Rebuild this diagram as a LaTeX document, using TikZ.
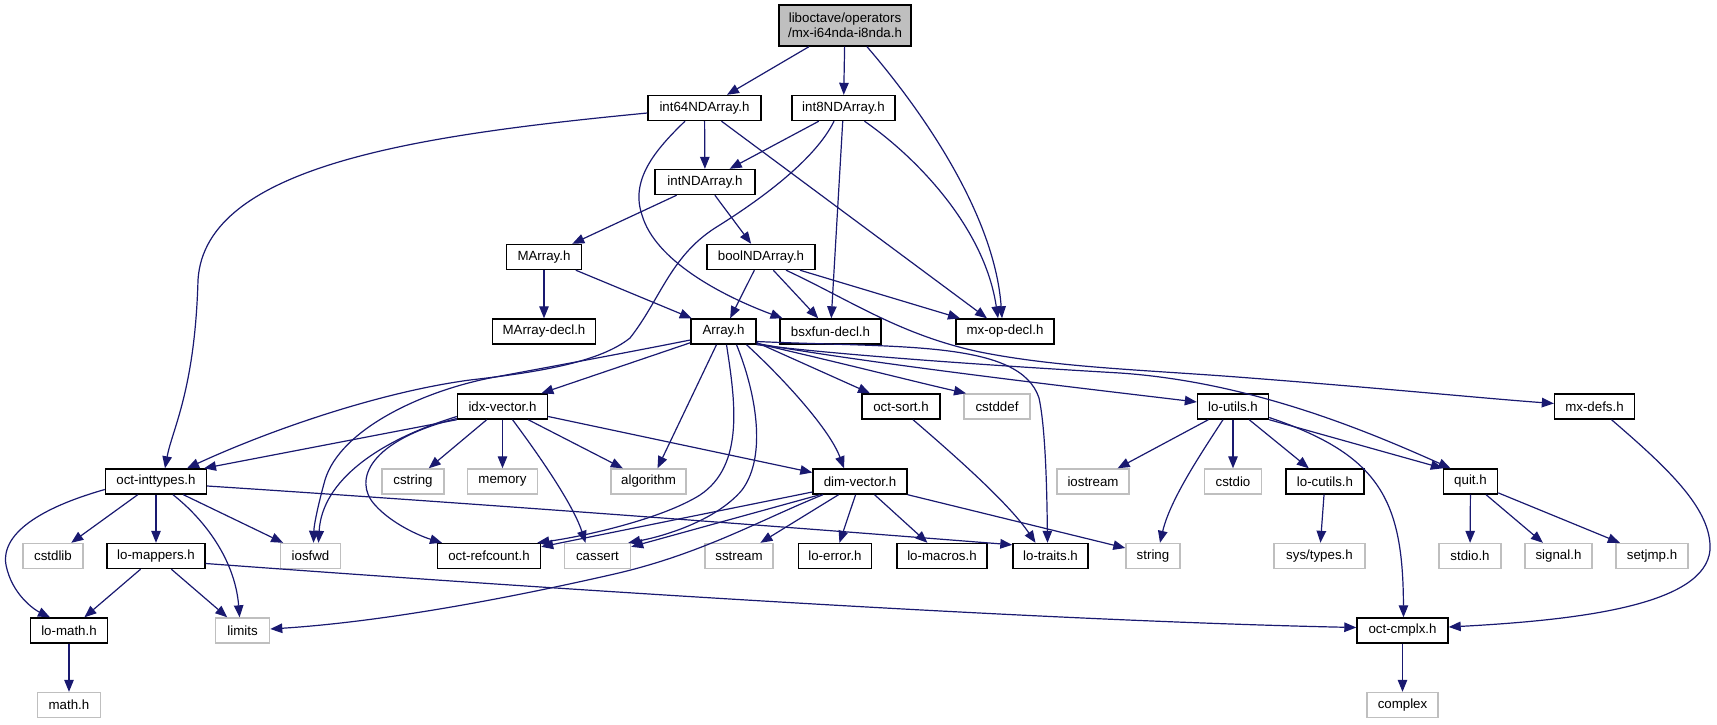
\documentclass[tikz,border=0pt]{standalone}
\usepackage{fontspec}
\setmainfont{Liberation Sans}
\usetikzlibrary{arrows.meta,calc}
\definecolor{edgeblue}{HTML}{191970}
\definecolor{boxgray}{HTML}{BFBFBF}
\newcommand\dfont{\fontsize{13.3pt}{15pt}\selectfont}
\tikzset{
  hb/.style={draw=black, fill=white, line width=1.4pt, minimum height=25pt, inner sep=0pt, font=\dfont},
  gb/.style={draw=boxgray, fill=white, line width=1.4pt, minimum height=25pt, inner sep=0pt, font=\dfont},
  dep/.style={draw=edgeblue, line width=1.2pt, -{Triangle[length=12pt,width=9.5pt]}},
}
\begin{document}
\begin{tikzpicture}[x=1pt,y=-1pt]
\useasboundingbox (0,0) rectangle (1717,724);
% nodes
\node[hb, fill=boxgray, minimum width=132pt, minimum height=41pt, align=center] (root) at (845,25.5) {liboctave/operators\\/mx-i64nda-i8nda.h};
\node[hb, minimum width=113pt] (int64) at (704.5,108) {int64NDArray.h};
\node[hb, minimum width=103pt] (int8) at (843.5,108) {int8NDArray.h};
\node[hb, minimum width=100pt] (intND) at (705,182) {intNDArray.h};
\node[hb, minimum width=75pt] (MArray) at (544,257) {MArray.h};
\node[hb, minimum width=108pt] (boolND) at (761,257) {boolNDArray.h};
\node[hb, minimum width=103pt] (MArraydecl) at (544,331.5) {MArray-decl.h};
\node[hb, minimum width=65pt] (Array) at (723.5,331.5) {Array.h};
\node[hb, minimum width=101pt] (bsxfun) at (830.5,331.5) {bsxfun-decl.h};
\node[hb, minimum width=98pt] (mxop) at (1005,331.5) {mx-op-decl.h};
\node[hb, minimum width=90pt] (idxvec) at (502.5,406.5) {idx-vector.h};
\node[hb, minimum width=78pt] (octsort) at (901,406.5) {oct-sort.h};
\node[gb, minimum width=66pt] (cstddef) at (997,406.5) {cstddef};
\node[hb, minimum width=71pt] (loutils) at (1233,406.5) {lo-utils.h};
\node[hb, minimum width=80pt] (mxdefs) at (1594.5,406.5) {mx-defs.h};
\node[hb, minimum width=101pt] (octint) at (156,481.5) {oct-inttypes.h};
\node[gb, minimum width=62pt] (cstring) at (413,481.5) {cstring};
\node[gb, minimum width=70pt] (memory) at (502.5,481.5) {memory};
\node[gb, minimum width=75pt] (algorithm) at (648.5,481.5) {algorithm};
\node[hb, minimum width=94pt] (dimvec) at (860,481.5) {dim-vector.h};
\node[gb, minimum width=72pt] (iostream) at (1093,481.5) {iostream};
\node[gb, minimum width=57pt] (cstdio) at (1233,481.5) {cstdio};
\node[hb, minimum width=78pt] (locutils) at (1325,481.5) {lo-cutils.h};
\node[hb, minimum width=54pt] (quit) at (1470.5,481.5) {quit.h};
\node[gb, minimum width=60pt] (cstdlib) at (53,556) {cstdlib};
\node[hb, minimum width=98pt] (lomappers) at (156,556) {lo-mappers.h};
\node[gb, minimum width=60pt] (iosfwd) at (310.5,556) {iosfwd};
\node[hb, minimum width=103pt] (octref) at (489,556) {oct-refcount.h};
\node[gb, minimum width=66pt] (cassert) at (597.5,556) {cassert};
\node[gb, minimum width=68pt] (sstream) at (739,556) {sstream};
\node[hb, minimum width=73pt] (loerror) at (835,556) {lo-error.h};
\node[hb, minimum width=90pt] (lomacros) at (942,556) {lo-macros.h};
\node[hb, minimum width=75pt] (lotraits) at (1050.5,556) {lo-traits.h};
\node[gb, minimum width=54pt] (string) at (1153,556) {string};
\node[gb, minimum width=91pt] (systypes) at (1319.5,556) {sys/types.h};
\node[gb, minimum width=62pt] (stdio) at (1470,556) {stdio.h};
\node[gb, minimum width=67pt] (signal) at (1558.5,556) {signal.h};
\node[gb, minimum width=72pt] (setjmp) at (1652,556) {setjmp.h};
\node[hb, minimum width=77pt] (lomath) at (69,630.5) {lo-math.h};
\node[gb, minimum width=54pt] (limits) at (242.6,630.5) {limits};
\node[hb, minimum width=91pt] (octcmplx) at (1402.5,630.5) {oct-cmplx.h};
\node[gb, minimum width=63pt] (math) at (69,705) {math.h};
\node[gb, minimum width=71pt] (complex) at (1402.5,705) {complex};
% edges: root
\draw[dep] (root) -- (int64);
\draw[dep] (root) -- (int8);
\draw[dep] ([xshift=22pt]root.south) .. controls (930,120) and (995,220) .. ([xshift=-3pt]mxop.north);
% int64NDArray
\draw[dep] (int64) -- (intND);
\draw[dep] ([yshift=-5pt]int64.west) .. controls (420,135) and (205,165) .. (198,280) .. controls (195,390) and (172,430) .. ([xshift=9pt]octint.north);
\draw[dep] ([xshift=-19.5pt]int64.south) .. controls (655,150) and (630,180) .. (642,215) .. controls (655,260) and (720,295) .. ([xshift=-48pt]bsxfun.north);
\draw[dep] ([xshift=17pt]int64.south) -- ([xshift=-18pt]mxop.north);
% int8NDArray
\draw[dep] (int8) -- (intND);
\draw[dep] (int8) -- (bsxfun);
\draw[dep] ([xshift=21pt]int8.south) .. controls (920,160) and (985,230) .. ([xshift=-7pt]mxop.north);
\draw[dep] ([xshift=-9.5pt]int8.south) .. controls (815,160) and (760,200) .. (715,228) .. controls (670,257) and (660,300) .. (630,338) .. controls (600,362) and (540,372) .. (470,380) .. controls (380,392) and (270,430) .. ([xshift=31pt]octint.north);
% intNDArray, MArray, boolNDArray
\draw[dep] (intND) -- (MArray);
\draw[dep] (intND) -- (boolND);
\draw[dep] (MArray) -- (MArraydecl);
\draw[dep] (MArray) -- (Array);
\draw[dep] (boolND) -- (Array);
\draw[dep] (boolND) -- (bsxfun);
\draw[dep] ([xshift=39pt]boolND.south) -- ([xshift=-45pt]mxop.north);
\draw[dep] ([xshift=25pt]boolND.south) .. controls (850,300) and (900,335) .. (980,352) .. controls (1060,368) and (1150,370) .. (1250,378) .. controls (1380,388) and (1480,398) .. ([yshift=3pt]mxdefs.west);
% Array.h
\draw[dep] (Array) -- (idxvec);
\draw[dep] ([yshift=-8.5pt]Array.west) .. controls (630,352) and (560,365) .. (490,378) .. controls (420,392) and (340,430) .. (325,480) .. controls (318,505) and (314,525) .. ([xshift=3pt]iosfwd.north);
\draw[dep] ([xshift=-7pt]Array.south) -- ([xshift=9pt]algorithm.north);
\draw[dep] ([xshift=3pt]Array.south) .. controls (735,400) and (745,465) .. (700,495) .. controls (660,520) and (580,537) .. ([xshift=-4pt]octref.north east);
\draw[dep] ([xshift=13pt]Array.south) .. controls (755,390) and (768,455) .. (742,490) .. controls (715,522) and (660,537) .. ([xshift=-3pt]cassert.north east);
\draw[dep] ([xshift=23pt]Array.south) .. controls (785,380) and (830,430) .. ([xshift=-16pt]dimvec.north);
\draw[dep] ([yshift=-11pt]Array.east) -- ([xshift=-31pt]octsort.north);
\draw[dep] ([yshift=-12pt]Array.east) .. controls (850,365) and (920,383) .. ([xshift=-31pt]cstddef.north);
\draw[dep] ([yshift=-12pt]Array.east) .. controls (880,365) and (1080,388) .. ([yshift=4.5pt]loutils.west);
\draw[dep] ([yshift=-10pt]Array.east) .. controls (900,348) and (1020,340) .. (1039,398) .. controls (1046,430) and (1047,500) .. ([xshift=-3pt]lotraits.north);
\draw[dep] (Array.south east) .. controls (850,356) and (1000,366) .. (1120,373) .. controls (1250,382) and (1365,430) .. ([xshift=-20pt]quit.north);
% idx-vector.h
\draw[dep] (idxvec.south west) -- ([xshift=48pt]octint.north);
\draw[dep] ([yshift=-10pt]idxvec.west) .. controls (380,440) and (322,480) .. ([xshift=8pt]iosfwd.north);
\draw[dep] ([yshift=-12pt]idxvec.west) .. controls (370,440) and (352,480) .. (375,505) .. controls (392,524) and (420,536) .. ([xshift=-47pt]octref.north);
\draw[dep] (idxvec) -- (cstring);
\draw[dep] (idxvec) -- (memory);
\draw[dep] ([xshift=10pt]idxvec.south) .. controls (550,470) and (575,510) .. ([xshift=-12pt]cassert.north);
\draw[dep] (idxvec) -- (algorithm);
\draw[dep] ([yshift=-10pt]idxvec.east) -- ([yshift=9pt]dimvec.west);
% oct-inttypes.h
\draw[dep] ([yshift=-8pt]octint.west) .. controls (50,505) and (0,530) .. (6,565) .. controls (12,595) and (35,610) .. ([xshift=-19pt]lomath.north);
\draw[dep] (octint) -- (cstdlib);
\draw[dep] (octint) -- (lomappers);
\draw[dep] ([xshift=17pt]octint.south) .. controls (205,520) and (235,560) .. ([xshift=-3pt]limits.north);
\draw[dep] (octint) -- (iosfwd);
\draw[dep] ([yshift=-4.5pt]octint.east) .. controls (500,505) and (850,532) .. ([yshift=-2pt]lotraits.north west);
% lo-mappers.h, lo-math.h
\draw[dep] (lomappers) -- (lomath);
\draw[dep] (lomappers) -- (limits);
\draw[dep] ([yshift=-7.5pt]lomappers.east) .. controls (700,600) and (1100,622) .. ([yshift=3pt]octcmplx.west);
\draw[dep] (lomath) -- (math);
% dim-vector.h
\draw[dep] ([yshift=-10.5pt]dimvec.west) -- ([yshift=-4pt]octref.north east);
\draw[dep] ([xshift=-40pt]dimvec.south) -- ([yshift=-4pt]cassert.north east);
\draw[dep] ([xshift=-37pt]dimvec.south) .. controls (760,520) and (700,555) .. (610,575) .. controls (500,600) and (380,622) .. ([yshift=1.5pt]limits.east);
\draw[dep] (dimvec) -- (sstream);
\draw[dep] (dimvec) -- (loerror);
\draw[dep] (dimvec) -- (lomacros);
\draw[dep] (dimvec.south east) -- ([yshift=8pt]string.west);
% oct-sort.h
\draw[dep] ([xshift=12pt]octsort.south) .. controls (960,460) and (1010,505) .. ([xshift=-15pt]lotraits.north);
% lo-utils.h
\draw[dep] (loutils) -- (iostream);
\draw[dep] ([xshift=-10pt]loutils.south) .. controls (1200,455) and (1170,500) .. ([xshift=7pt]string.north);
\draw[dep] (loutils) -- (cstdio);
\draw[dep] (loutils) -- (locutils);
\draw[dep] (loutils.south east) -- (quit.north west);
\draw[dep] ([yshift=-11pt]loutils.east) .. controls (1380,455) and (1403,500) .. ([xshift=1pt]octcmplx.north);
% others
\draw[dep] (locutils) -- (systypes);
\draw[dep] (quit) -- (stdio);
\draw[dep] (quit) -- (signal);
\draw[dep] (quit) -- (setjmp);
\draw[dep] ([xshift=17pt]mxdefs.south) .. controls (1670,470) and (1712,510) .. (1710,550) .. controls (1705,605) and (1580,620) .. ([yshift=3.5pt]octcmplx.east);
\draw[dep] (octcmplx) -- (complex);
\end{tikzpicture}
\end{document}
